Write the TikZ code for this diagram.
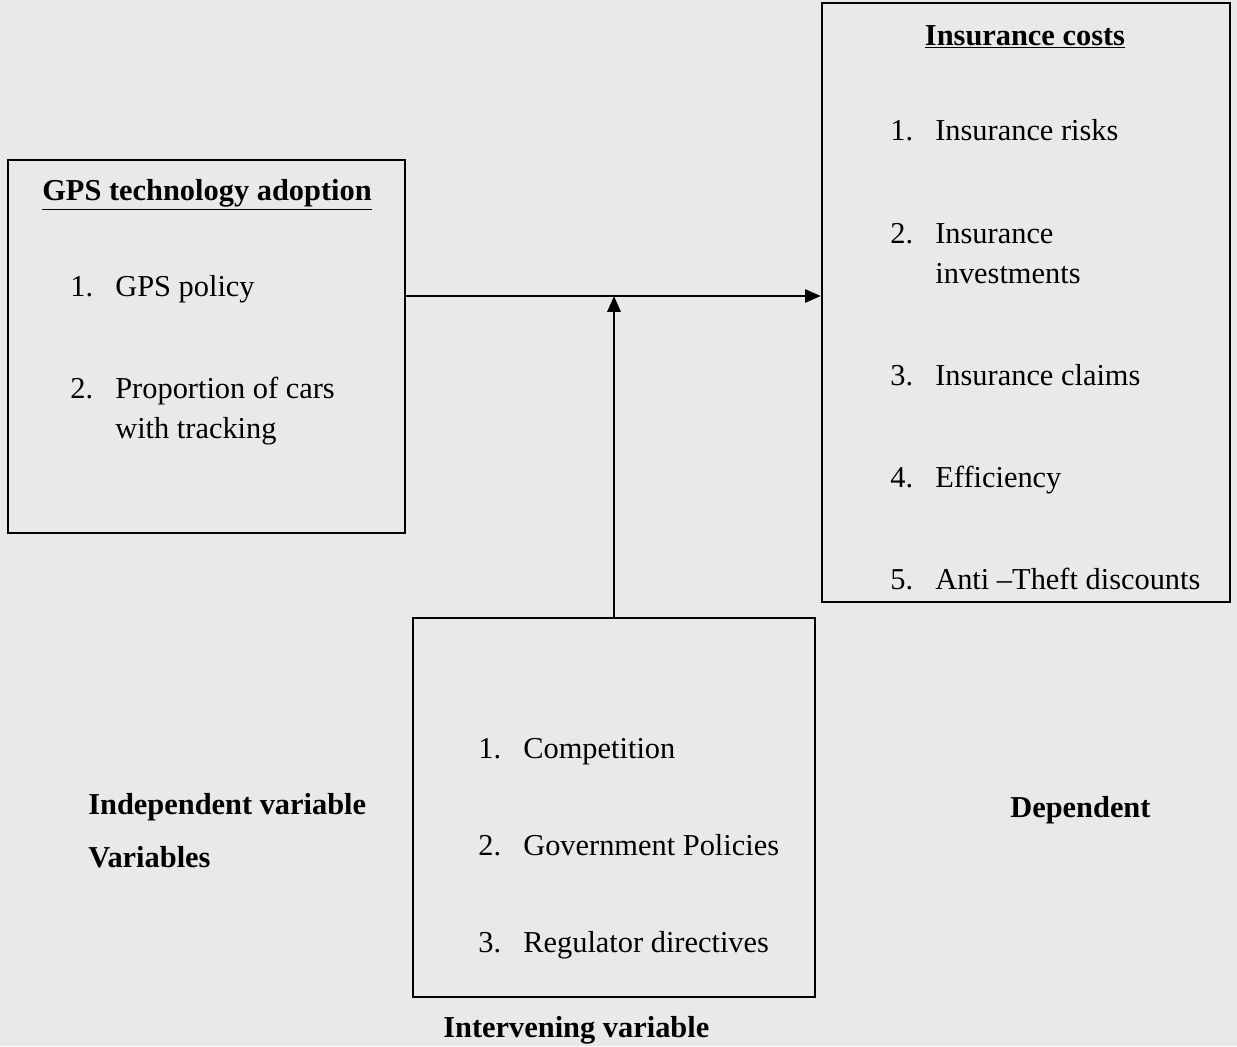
\documentclass[tikz,border=0pt]{standalone}
\usepackage{fontspec}
\setmainfont{Liberation Serif}
\usetikzlibrary{arrows.meta,positioning}
\usepackage{xcolor}
\definecolor{paper}{HTML}{E9E9E9}

\newcommand{\numitem}[2]{\begin{tabular}[t]{@{}p{0.9cm}@{}l@{}}#1 & #2\end{tabular}}

\begin{document}
\begin{tikzpicture}[
  x=0.02cm, y=-0.02cm,
  panel/.style={rectangle,draw,line width=1.4pt,inner sep=0pt},
  item/.style={anchor=base west,inner sep=0pt,font=\fontsize{17.3}{22.8}\selectfont},
  head/.style={item,font=\fontsize{17.3}{22.8}\selectfont\bfseries},
  arrow/.style={-{Triangle[length=9pt,width=7.5pt]},line width=1.4pt}
]
  \fill[paper] (0,0) rectangle (1237,1046);
  \useasboundingbox (0,0) rectangle (1237,1046);

  % boxes
  \node[panel,minimum width=7.94cm,minimum height=7.46cm] (gps) at (206.5,346.5) {};
  \node[panel,minimum width=8.16cm,minimum height=11.98cm] (cost) at (1026,302.5) {};
  \node[panel,minimum width=8.04cm,minimum height=7.58cm] (inter) at (614,807.5) {};

  % independent side
  \node[head] (gpshead) at (42,200) {\underline{GPS technology adoption}};
  \node[item] (gps1) at (70,296) {\numitem{1.}{GPS policy}};
  \node[item] (gps2) at (70,398) {\numitem{2.}{Proportion of cars\\ & with tracking}};

  % dependent side
  \node[head,anchor=base] (costhead) at (1025,45) {\underline{Insurance costs}};
  \node[item] (cost1) at (890,140) {\numitem{1.}{Insurance risks}};
  \node[item] (cost2) at (890,243) {\numitem{2.}{Insurance\\ & investments}};
  \node[item] (cost3) at (890,385) {\numitem{3.}{Insurance claims}};
  \node[item] (cost4) at (890,487) {\numitem{4.}{Efficiency}};
  \node[item] (cost5) at (890,589) {\numitem{5.}{Anti --Theft discounts}};

  % intervening
  \node[item] (int1) at (478,758) {\numitem{1.}{Competition}};
  \node[item] (int2) at (478,855) {\numitem{2.}{Government Policies}};
  \node[item] (int3) at (478,952) {\numitem{3.}{Regulator directives}};

  % labels
  \node[head] (indeplabel) at (88,814) {Independent variable};
  \node[head] (varlabel) at (88,867) {Variables};
  \node[head] (deplabel) at (1010,817) {Dependent};
  \node[head] (intlabel) at (443,1037) {Intervening variable};

  % links
  \coordinate (join) at (614,296);
  \draw[arrow] (gps.east |- join) -- (cost.west |- join);
  \draw[arrow] (inter.north) -- (join);
\end{tikzpicture}
\end{document}
